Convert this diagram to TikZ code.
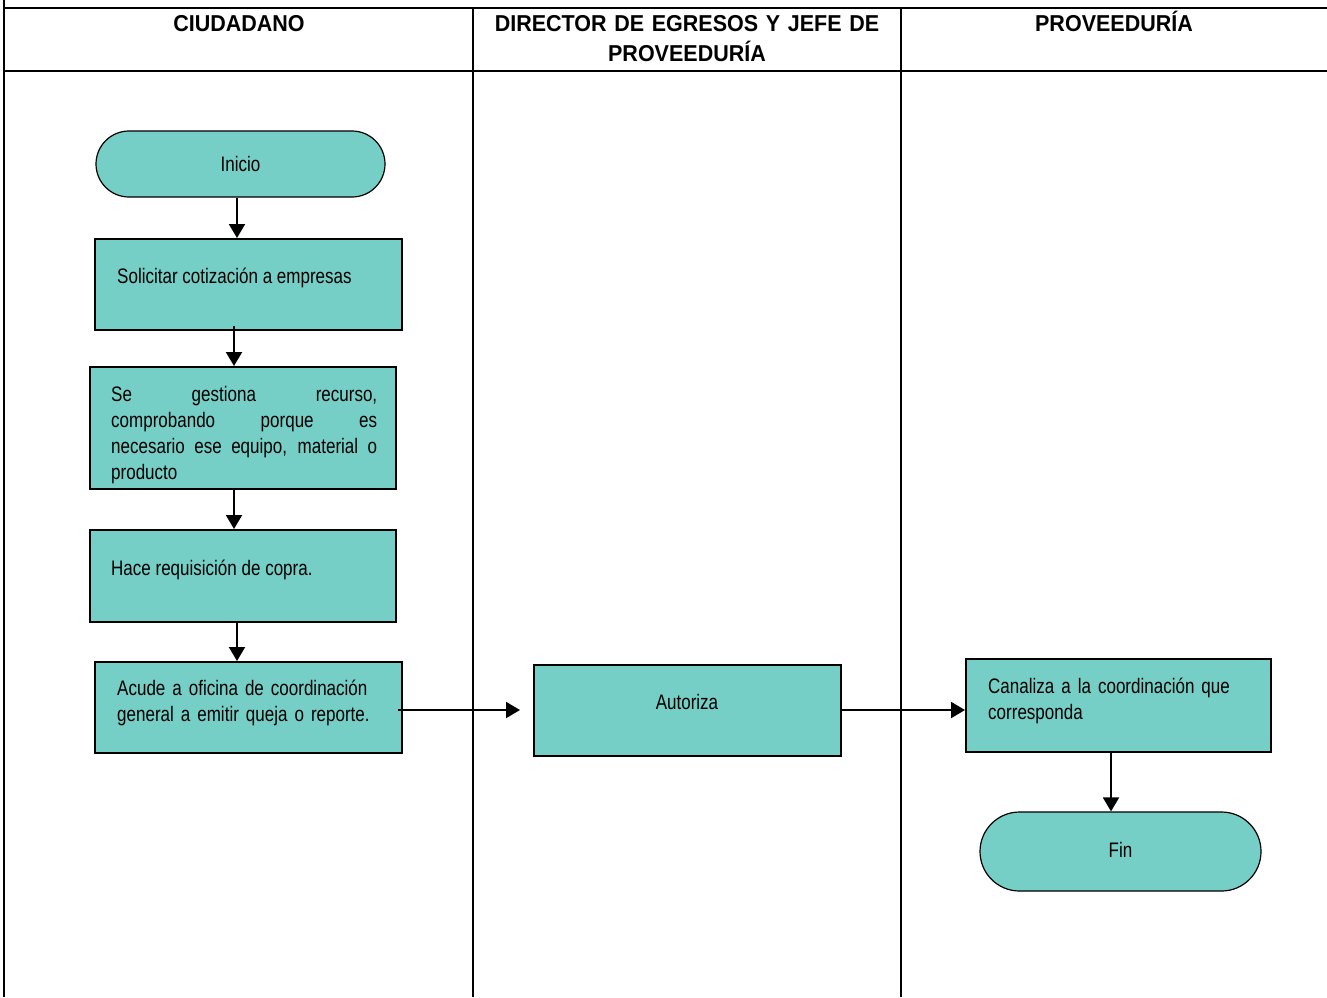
\documentclass[tikz,border=0pt]{standalone}
\usepackage{fontspec}
\setmainfont{Liberation Sans}[FakeStretch=0.81]
\newfontfamily\hdrfont{Liberation Sans}[FakeStretch=0.935]
\usetikzlibrary{arrows.meta,shapes.misc}
\definecolor{teal1}{RGB}{118,207,198}
\tikzset{
  lane/.style={line width=2pt},
  box/.style={draw, line width=2pt, fill=teal1, rectangle, inner sep=0pt},
  term/.style={draw, line width=1.2pt, fill=teal1, rounded rectangle, inner sep=0pt, font=\fontsize{21}{26.3}\selectfont},
  txt/.style={inner sep=0pt, font=\fontsize{21}{26.3}\selectfont, anchor=base west, align=left},
  hdr/.style={inner sep=0pt, font=\hdrfont\bfseries\fontsize{23}{30}\selectfont, anchor=base, align=center},
  arr/.style={line width=2pt, -{Triangle[width=16pt,length=14pt]}}
}
\begin{document}
\begin{tikzpicture}[x=1pt,y=-1pt]
\useasboundingbox (0,0) rectangle (1327,997);
% lanes
\draw[lane] (4,0) -- (4,997);
\draw[lane] (4,8) -- (1327,8);
\draw[lane] (4,71) -- (1327,71);
\draw[lane] (473,8) -- (473,997);
\draw[lane] (901,8) -- (901,997);
% headers
\node[hdr] (h1) at (239,31) {CIUDADANO};
\node[hdr, text width=420pt] (h2) at (687,31) {DIRECTOR DE EGRESOS Y JEFE DE\\PROVEEDURÍA};
\node[hdr] (h3) at (1114,31) {PROVEEDURÍA};
% shapes
\node[term, minimum width=289pt, minimum height=66pt] (ini) at (240.5,164) {\raisebox{-2pt}{Inicio}};
\node[box, minimum width=307pt, minimum height=91pt] (b1) at (248.5,284.5) {};
\node[txt] (t1) at (117,283) {Solicitar cotización a empresas};
\node[box, minimum width=306pt, minimum height=122pt] (b2) at (243,428) {};
\node[txt, text width=266pt, align=justify] (t2) at (111,401) {Se gestiona recurso,\linebreak comprobando porque es\linebreak necesario ese equipo, material o\linebreak producto};
\node[box, minimum width=306pt, minimum height=92pt] (b3) at (243,576) {};
\node[txt] (t3) at (111,575) {Hace requisición de copra.};
\node[box, minimum width=307pt, minimum height=91pt] (b4) at (248.5,707.5) {};
\node[txt, text width=280pt] (t4) at (117,695) {Acude a oficina de coordinación\\general a emitir queja o reporte.};
\node[box, minimum width=307pt, minimum height=91pt] (au) at (687.5,710.5) {};
\node[txt, anchor=base] (t5) at (687,709) {Autoriza};
\node[box, minimum width=305pt, minimum height=93pt] (ca) at (1118.5,705.5) {};
\node[txt, text width=280pt] (t6) at (988,693) {Canaliza a la coordinación que\\corresponda};
\node[term, minimum width=281pt, minimum height=79pt] (fin) at (1120.5,851.5) {\raisebox{3pt}{Fin}};
% arrows
\draw[arr] ([xshift=-3.5pt]ini.south) -- ([xshift=-11.5pt]b1.north);
\draw[arr] ([xshift=-14.5pt,yshift=5pt]b1.south) -- ([xshift=-9pt]b2.north);
\draw[arr] ([xshift=-9pt,yshift=2pt]b2.south) -- ([xshift=-9pt]b3.north);
\draw[arr] ([xshift=-6pt]b3.south) -- ([xshift=-11.5pt]b4.north);
\draw[arr] ([xshift=-5pt,yshift=-2.5pt]b4.east) -- ([xshift=-13pt,yshift=0.5pt]au.west);
\draw[arr] ([yshift=0.5pt]au.east) -- ([yshift=-4.5pt]ca.west);
\draw[arr] ([xshift=-7.5pt]ca.south) -- ([xshift=-9.5pt]fin.north);
\end{tikzpicture}
\end{document}
